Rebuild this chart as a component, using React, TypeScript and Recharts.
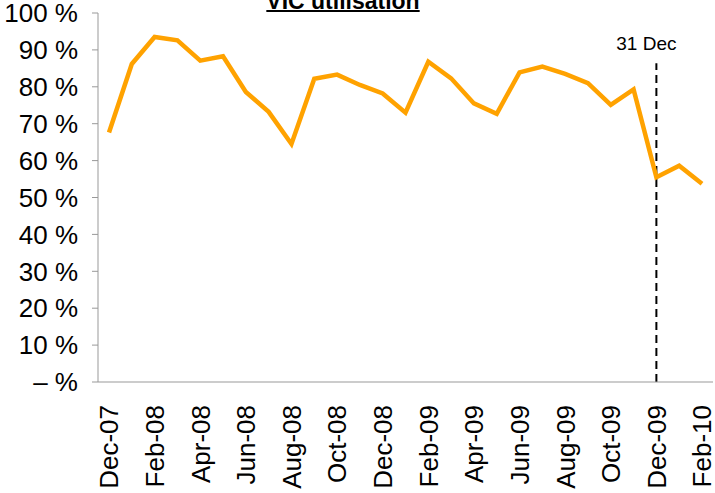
import { LineChart, Line, XAxis, YAxis, ReferenceLine } from 'recharts';

const months = [
  'Dec-07', 'Jan-08', 'Feb-08', 'Mar-08', 'Apr-08', 'May-08', 'Jun-08', 'Jul-08', 'Aug-08',
  'Sep-08', 'Oct-08', 'Nov-08', 'Dec-08', 'Jan-09', 'Feb-09', 'Mar-09', 'Apr-09', 'May-09',
  'Jun-09', 'Jul-09', 'Aug-09', 'Sep-09', 'Oct-09', 'Nov-09', 'Dec-09', 'Jan-10', 'Feb-10',
];

const utilisation = [
  67.6, 86.2, 93.5, 92.6, 87.1, 88.3, 78.6, 73.2, 64.5,
  82.2, 83.3, 80.5, 78.2, 73.0, 86.8, 82.3, 75.5, 72.7,
  83.9, 85.5, 83.5, 81.0, 75.1, 79.3, 55.5, 58.6, 53.7,
];

const yTicks = [0, 10, 20, 30, 40, 50, 60, 70, 80, 90, 100];

const markerMonth = 'Dec-09';
const markerLabel = '31 Dec';
const markerTop = 86.4;

const data = months.map((m, i) => ({ month: m, value: utilisation[i] }));

const FONT = '"Liberation Sans", Arial, sans-serif';

function MonthTick({ x, y, payload }: any) {
  return (
    <text
      x={x}
      y={y + 15}
      transform={`rotate(-90, ${x}, ${y + 15})`}
      textAnchor="end"
      dy="0.36em"
      fontSize={26}
      fontFamily={FONT}
      fill="#000"
    >
      {payload.value}
    </text>
  );
}

export default function App() {
  return (
    <div style={{ position: 'absolute', left: 0, top: 0, width: 715, height: 493, background: '#fff', overflow: 'hidden' }}>
      <div
        style={{
          position: 'absolute',
          left: 0,
          width: 686,
          top: -10,
          textAlign: 'center',
          fontFamily: FONT,
          fontWeight: 'bold',
          fontSize: 23,
          lineHeight: '23px',
          textDecoration: 'underline',
          textDecorationThickness: 2,
        }}
      >
        VIC utilisation
      </div>
      <LineChart width={715} height={493} data={data} margin={{ top: 13, right: 2, left: 0, bottom: 0 }}>
        <XAxis
          dataKey="month"
          interval={1}
          height={111}
          padding={{ left: 11, right: 11 }}
          axisLine={{ stroke: '#999' }}
          tickLine={false}
          tick={<MonthTick />}
        />
        <YAxis
          width={98}
          domain={[0, 100]}
          ticks={yTicks}
          interval={0}
          axisLine={{ stroke: '#999' }}
          tickLine={{ stroke: '#999' }}
          tickSize={6}
          tickMargin={14}
          tickFormatter={(v: number) => (v === 0 ? '\u2013 %' : `${v} %`)}
          tick={{ fontSize: 26, fontFamily: FONT, fill: '#000' }}
        />
        <ReferenceLine
          segment={[
            { x: markerMonth, y: 0 },
            { x: markerMonth, y: markerTop },
          ]}
          stroke="#000"
          strokeWidth={2}
          strokeDasharray="8 5"
          label={(props: any) => {
            const vb = props.viewBox || {};
            return (
              <text
                x={(vb.x ?? 0) - 10}
                y={(vb.y ?? 0) - 13}
                textAnchor="middle"
                fontSize={19}
                fontFamily={FONT}
                fill="#000"
              >
                {markerLabel}
              </text>
            );
          }}
        />
        <Line
          type="linear"
          dataKey="value"
          stroke="#FFA200"
          strokeWidth={4.5}
          dot={false}
          isAnimationActive={false}
        />
      </LineChart>
    </div>
  );
}
